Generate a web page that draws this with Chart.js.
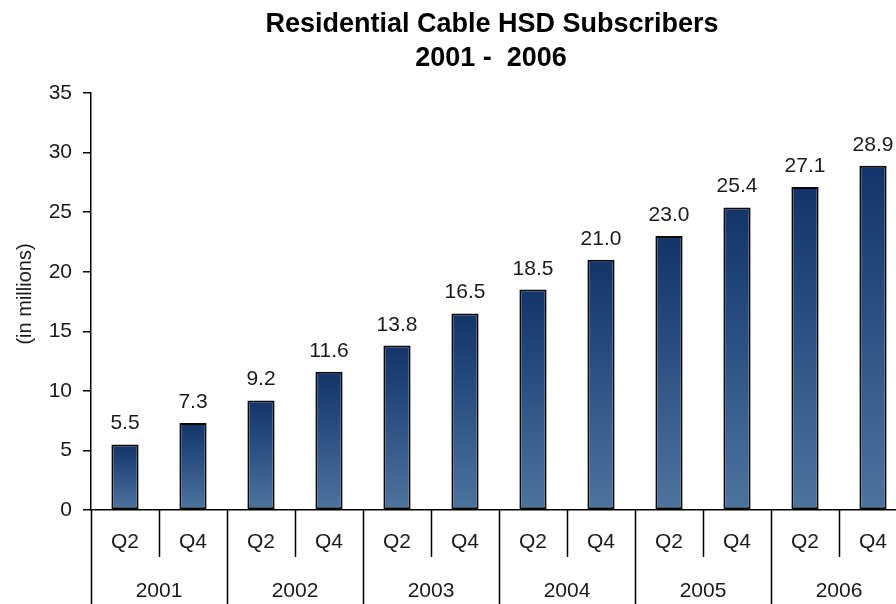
<!DOCTYPE html>
<html><head><meta charset="utf-8">
<script src="https://cdn.jsdelivr.net/npm/chart.js@4"></script>
<style>
html,body{margin:0;padding:0;background:#fff;overflow:hidden}
#wrap{width:896px;height:604px;overflow:hidden;position:relative;background:#fff}
#wrap canvas{position:absolute;left:0;top:0}
</style>
</head><body>
<div id="wrap"><canvas id="c" width="910" height="604" style="width:910px;height:604px"></canvas></div>
<script>
const titleLines = ['Residential Cable HSD Subscribers', '2001 -  2006'];
const quarters = ['Q2','Q4','Q2','Q4','Q2','Q4','Q2','Q4','Q2','Q4','Q2','Q4'];
const years = ['2001','2002','2003','2004','2005','2006'];
const subscribers = [5.5, 7.3, 9.2, 11.6, 13.8, 16.5, 18.5, 21.0, 23.0, 25.4, 27.1, 28.9];
const yMin = 0, yMax = 35, yStep = 5;
const yAxisTitle = '(in millions)';

const FONT = "'Liberation Sans', Arial, sans-serif";
const TXT = '#1a1a1a';

const decorPlugin = {
  id: 'decor',
  afterDraw(chart) {
    const ctx = chart.ctx;
    const x = chart.scales.x, y = chart.scales.y;
    const area = chart.chartArea;
    const n = quarters.length;
    const catW = (area.right - area.left) / n;
    ctx.save();
    // separators
    ctx.strokeStyle = '#000';
    ctx.lineWidth = 1.5;
    for (let i = 0; i <= n; i++) {
      const px = Math.round(area.left + i * catW) + 0.5;
      const yEnd = (i % 2 === 0) ? 604 : 557;
      ctx.beginPath();
      ctx.moveTo(px, area.bottom);
      ctx.lineTo(px, yEnd);
      ctx.stroke();
    }
    // year labels
    ctx.fillStyle = TXT;
    ctx.font = '21px ' + FONT;
    ctx.textAlign = 'center';
    ctx.textBaseline = 'middle';
    years.forEach((yr, j) => {
      const cx = area.left + (2 * j + 1) * catW;
      ctx.fillText(yr, cx, 591);
    });
    // value labels
    ctx.textBaseline = 'alphabetic';
    subscribers.forEach((v, i) => {
      const px = x.getPixelForValue(i);
      const py = y.getPixelForValue(v);
      ctx.fillText(v.toFixed(1), px, py - 15);
    });
    // y-axis title
    ctx.save();
    ctx.translate(25, 294);
    ctx.rotate(-Math.PI / 2);
    ctx.font = '20px ' + FONT;
    ctx.textBaseline = 'middle';
    ctx.fillText(yAxisTitle, 0, 0);
    ctx.restore();
    // title
    ctx.font = 'bold 27px ' + FONT;
    ctx.fillStyle = '#000';
    ctx.textBaseline = 'alphabetic';
    ctx.fillText(titleLines[0], 492, 32);
    ctx.fillText(titleLines[1], 491, 66);
    ctx.restore();
  }
};

new Chart(document.getElementById('c'), {
  type: 'bar',
  data: {
    labels: quarters,
    datasets: [{
      data: subscribers,
      backgroundColor: (c) => {
        const chart = c.chart;
        if (!chart.chartArea || c.type !== 'data') return '#2a4e80';
        const ys = chart.scales.y;
        const top = ys.getPixelForValue(c.raw);
        const bot = ys.getPixelForValue(0);
        const g = chart.ctx.createLinearGradient(0, top, 0, bot);
        g.addColorStop(0, '#12346a');
        g.addColorStop(1, '#4e73a0');
        return g;
      },
      borderColor: '#0a0a0a',
      borderWidth: 2,
      borderSkipped: false,
      categoryPercentage: 1.0,
      barPercentage: 0.4
    }]
  },
  options: {
    responsive: false,
    animation: false,
    layout: { padding: { top: 93, right: 3, bottom: 0, left: 0 } },
    plugins: { legend: { display: false }, tooltip: { enabled: false }, title: { display: false } },
    scales: {
      x: {
        offset: true,
        grid: { display: false, drawTicks: false },
        border: { display: true, color: '#000', width: 1.5 },
        ticks: { color: TXT, font: { size: 21, family: FONT }, padding: 20, autoSkip: false, maxRotation: 0 },
        afterFit(s) { s.height = 94; }
      },
      y: {
        min: yMin, max: yMax,
        ticks: { stepSize: yStep, color: TXT, font: { size: 21, family: FONT }, padding: 11 },
        grid: { drawOnChartArea: false, drawTicks: true, tickLength: 8, color: '#000', lineWidth: 1.5 },
        border: { display: true, color: '#000', width: 1.5 },
        title: { display: false },
        afterFit(s) { s.width = 91; }
      }
    }
  },
  plugins: [decorPlugin]
});
</script>
</body></html>
